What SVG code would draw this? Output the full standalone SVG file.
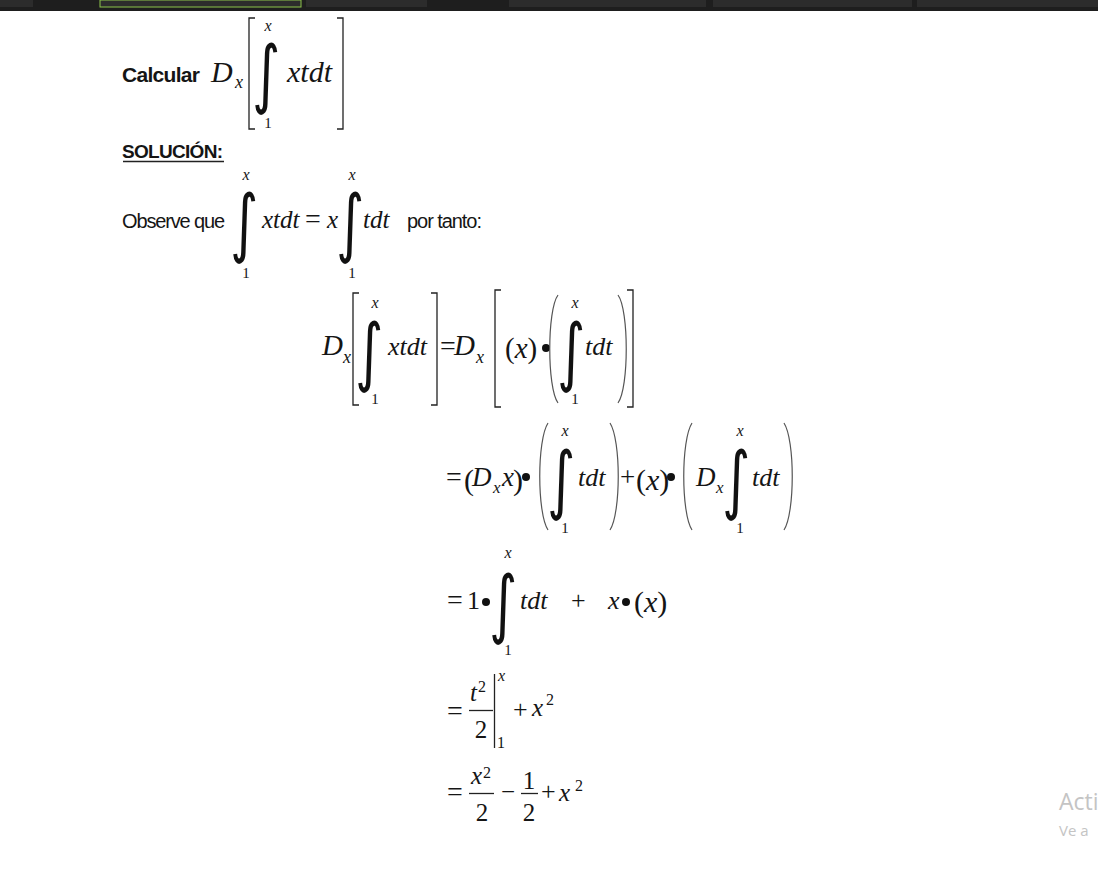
<svg xmlns="http://www.w3.org/2000/svg" width="1098" height="879" viewBox="0 0 1098 879">
<style>
.t{font-family:"Liberation Sans",Arial,sans-serif;fill:#151515}
.b{font-weight:bold}
.m{font-family:"Liberation Serif","Times New Roman",serif;font-style:italic;fill:#151515}
.n{font-family:"Liberation Serif","Times New Roman",serif;fill:#151515}
.int{font-family:"DejaVu Sans",sans-serif;fill:#111}
.br{fill:none;stroke:#222;stroke-width:1.3}
.pa{fill:none;stroke:#555;stroke-width:1.2}
.ln{stroke:#222;stroke-width:1.3}
.dot{fill:#111}
.tab{fill:#2c2c2c}
</style>
<rect width="1098" height="879" fill="#ffffff"/>
<g id="topbar">
<rect x="0" y="0" width="1098" height="11" fill="#1e1e1e"/>
<rect class="tab" x="0" y="0" width="33" height="7"/>
<rect class="tab" x="100" y="0" width="201" height="7" stroke="#8bc34a" stroke-width="1"/>
<rect class="tab" x="306" y="0" width="121" height="7"/>
<rect class="tab" x="509" y="0" width="197" height="7"/>
<rect class="tab" x="713" y="0" width="199" height="7"/>
<rect class="tab" x="917" y="0" width="181" height="7"/>
</g>
<g id="calcular">
<text class="t b" x="122" y="82" font-size="21" textLength="78">Calcular</text>
<text class="m" x="211" y="82" font-size="30">D</text>
<text class="m" x="235" y="88" font-size="18">x</text>
<path class="br" d="M255,18 H249 V129 H255"/>
<path class="br" d="M337,18 H343 V129 H337"/>
<text class="int" font-size="60" text-anchor="middle" transform="translate(266,99) scale(0.9,1.25)">∫</text>
<text class="m" x="268" y="31" font-size="16" text-anchor="middle">x</text>
<text class="n" x="268" y="128" font-size="15" text-anchor="middle">1</text>
<text class="m" x="287" y="82" font-size="30">xtdt</text>
</g>
<g id="solucion">
<text class="t b" x="122" y="158" font-size="19" textLength="101">SOLUCIÓN:</text>
<line class="ln" x1="123" y1="161.5" x2="224" y2="161.5" stroke-width="1.5"/>
</g>
<g id="observe">
<text class="t" x="122" y="228" font-size="20" textLength="103">Observe que</text>
<text class="int" font-size="60" text-anchor="middle" transform="translate(244,248) scale(0.9,1.25)">∫</text>
<text class="m" x="246" y="180" font-size="16" text-anchor="middle">x</text>
<text class="n" x="246" y="278" font-size="15" text-anchor="middle">1</text>
<text class="m" x="262" y="228" font-size="25">xtdt</text>
<text class="n" x="305" y="228" font-size="28">=</text>
<text class="m" x="327" y="228" font-size="25">x</text>
<text class="int" font-size="60" text-anchor="middle" transform="translate(350,248) scale(0.9,1.25)">∫</text>
<text class="m" x="352" y="180" font-size="16" text-anchor="middle">x</text>
<text class="n" x="352" y="278" font-size="15" text-anchor="middle">1</text>
<text class="m" x="363" y="228" font-size="25">tdt</text>
<text class="t" x="407" y="228" font-size="20" textLength="75">por tanto:</text>
</g>
<g id="line3">
<text class="m" x="322" y="355" font-size="29">D</text>
<text class="m" x="343" y="363" font-size="18">x</text>
<path class="br" d="M359,293 H353 V405 H359"/>
<path class="br" d="M431,293 H437 V405 H431"/>
<text class="int" font-size="60" text-anchor="middle" transform="translate(369,377) scale(0.9,1.25)">∫</text>
<text class="m" x="375" y="308" font-size="16" text-anchor="middle">x</text>
<text class="n" x="375" y="404" font-size="15" text-anchor="middle">1</text>
<text class="m" x="388" y="355" font-size="26">xtdt</text>
<text class="n" x="440" y="355" font-size="28">=</text>
<text class="m" x="454" y="355" font-size="29">D</text>
<text class="m" x="476" y="363" font-size="18">x</text>
<path class="br" d="M501,290 H495 V407 H501"/>
<text class="n" x="505" y="358" font-size="29">(<tspan class="m">x</tspan>)</text>
<circle class="dot" cx="546" cy="348" r="4"/>
<path class="pa" d="M558,295 C547,310 547,388 558,403"/>
<text class="int" font-size="60" text-anchor="middle" transform="translate(571,377) scale(0.9,1.25)">∫</text>
<text class="m" x="575" y="308" font-size="16" text-anchor="middle">x</text>
<text class="n" x="575" y="404" font-size="15" text-anchor="middle">1</text>
<text class="m" x="585" y="355" font-size="26">tdt</text>
<path class="pa" d="M618,295 C629,310 629,388 618,403"/>
<path class="br" d="M627,290 H633 V407 H627"/>
</g>
<g id="line4">
<text class="n" x="446" y="486" font-size="28">=</text>
<text class="n" x="464" y="490" font-size="30">(</text>
<text class="m" x="472" y="486" font-size="27">D</text>
<text class="m" x="493" y="493" font-size="17">x</text>
<text class="m" x="502" y="486" font-size="27">x</text>
<text class="n" x="513" y="490" font-size="30">)</text>
<circle class="dot" cx="526" cy="477" r="4"/>
<path class="pa" d="M548,423 C537,440 537,513 548,530"/>
<text class="int" font-size="60" text-anchor="middle" transform="translate(561,505) scale(0.9,1.25)">∫</text>
<text class="m" x="565" y="436" font-size="16" text-anchor="middle">x</text>
<text class="n" x="565" y="533" font-size="15" text-anchor="middle">1</text>
<text class="m" x="578" y="486" font-size="26">tdt</text>
<path class="pa" d="M610,423 C621,440 621,513 610,530"/>
<text class="n" x="620" y="486" font-size="27">+</text>
<text class="n" x="636" y="490" font-size="30">(<tspan class="m">x</tspan>)</text>
<circle class="dot" cx="671" cy="477" r="4"/>
<path class="pa" d="M692,423 C681,440 681,513 692,530"/>
<text class="m" x="696" y="486" font-size="27">D</text>
<text class="m" x="716" y="493" font-size="17">x</text>
<text class="int" font-size="60" text-anchor="middle" transform="translate(736,505) scale(0.9,1.25)">∫</text>
<text class="m" x="740" y="436" font-size="16" text-anchor="middle">x</text>
<text class="n" x="740" y="533" font-size="15" text-anchor="middle">1</text>
<text class="m" x="752" y="486" font-size="26">tdt</text>
<path class="pa" d="M784,423 C795,440 795,513 784,530"/>
</g>
<g id="line5">
<text class="n" x="447" y="609" font-size="28">=</text>
<text class="n" x="467" y="609" font-size="26">1</text>
<circle class="dot" cx="486" cy="602" r="4"/>
<text class="int" font-size="60" text-anchor="middle" transform="translate(503,629) scale(0.9,1.25)">∫</text>
<text class="m" x="508" y="558" font-size="16" text-anchor="middle">x</text>
<text class="n" x="508" y="655" font-size="15" text-anchor="middle">1</text>
<text class="m" x="520" y="609" font-size="26">tdt</text>
<text class="n" x="571" y="609" font-size="26">+</text>
<text class="m" x="608" y="609" font-size="26">x</text>
<circle class="dot" cx="626" cy="602" r="4"/>
<text class="n" x="634" y="612" font-size="30">(<tspan class="m">x</tspan>)</text>
</g>
<g id="line6">
<text class="n" x="447" y="720" font-size="28">=</text>
<text class="m" x="470" y="701" font-size="25">t</text>
<text class="n" x="478" y="692" font-size="16">2</text>
<line class="ln" x1="469" y1="710.5" x2="493" y2="710.5"/>
<text class="n" x="481" y="738" font-size="25" text-anchor="middle">2</text>
<line class="ln" x1="494.5" y1="674" x2="494.5" y2="748"/>
<text class="m" x="498" y="681" font-size="16">x</text>
<text class="n" x="497" y="748" font-size="16">1</text>
<text class="n" x="513" y="718" font-size="26">+</text>
<text class="m" x="532" y="716" font-size="25">x</text>
<text class="n" x="546" y="705" font-size="16">2</text>
</g>
<g id="line7">
<text class="n" x="447" y="801" font-size="28">=</text>
<text class="m" x="471" y="784" font-size="25">x</text>
<text class="n" x="483" y="778" font-size="16">2</text>
<line class="ln" x1="469" y1="793.5" x2="494" y2="793.5"/>
<text class="n" x="482" y="821" font-size="25" text-anchor="middle">2</text>
<text class="n" x="501" y="800" font-size="25">−</text>
<text class="n" x="529" y="789" font-size="25" text-anchor="middle">1</text>
<line class="ln" x1="521" y1="793.5" x2="538" y2="793.5"/>
<text class="n" x="529" y="821" font-size="25" text-anchor="middle">2</text>
<text class="n" x="541" y="800" font-size="26">+</text>
<text class="m" x="559" y="801" font-size="25">x</text>
<text class="n" x="575" y="791" font-size="16">2</text>
</g>
<g id="watermark">
<text x="1059" y="810" font-family="'Segoe UI','Open Sans','Noto Sans',sans-serif" font-size="23" fill="#c4c4c4">Acti</text>
<text x="1059" y="836" font-family="'Segoe UI','Open Sans','Noto Sans',sans-serif" font-size="15" fill="#c4c4c4">Ve a</text>
</g>
</svg>
